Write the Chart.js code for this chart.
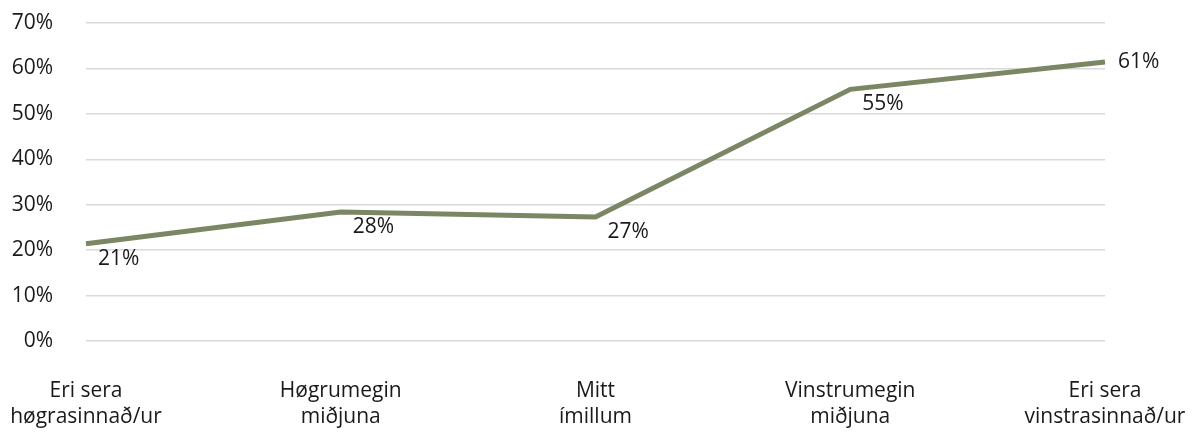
<!DOCTYPE html>
<html>
<head>
<meta charset="utf-8">
<script src="https://cdn.jsdelivr.net/npm/chart.js@4/dist/chart.umd.min.js"></script>
<style>
  html, body { margin: 0; padding: 0; background: #fff; }
  #wrap { width: 1200px; height: 432px; }
</style>
</head>
<body>
<div id="wrap"><canvas id="lineChart"></canvas></div>
<script>
// categories (two-line labels) and values in percent
const categories = [
  ["Eri sera", "høgrasinnað/ur"],
  ["Høgrumegin", "miðjuna"],
  ["Mitt", "ímillum"],
  ["Vinstrumegin", "miðjuna"],
  ["Eri sera", "vinstrasinnað/ur"]
];
const shareValues = [21.4, 28.4, 27.3, 55.4, 61.4];
const yTicks = [0, 10, 20, 30, 40, 50, 60, 70];

const FONT = "'Open Sans', sans-serif";
const TEXT = "#1a1a1a";

// value labels, below-right of each point, last one to the right
const pointLabels = {
  id: "pointLabels",
  afterDatasetsDraw(chart) {
    const ctx = chart.ctx;
    const meta = chart.getDatasetMeta(0);
    ctx.save();
    ctx.font = "21px " + FONT;
    ctx.fillStyle = TEXT;
    ctx.textAlign = "left";
    ctx.textBaseline = "middle";
    meta.data.forEach((pt, i) => {
      const txt = Math.round(shareValues[i]) + "%";
      if (i === meta.data.length - 1) {
        ctx.fillText(txt, pt.x + 13, pt.y);
      } else {
        ctx.fillText(txt, pt.x + 12, pt.y + 15);
      }
    });
    ctx.restore();
  }
};

const ctx = document.getElementById("lineChart").getContext("2d");
new Chart(ctx, {
  type: "line",
  data: {
    labels: categories,
    datasets: [
      {
        data: shareValues,
        borderColor: "#7a8664",
        borderWidth: 5,
        pointRadius: 0,
        tension: 0,
        fill: false
      }
    ]
  },
  options: {
    responsive: true,
    maintainAspectRatio: false,
    animation: false,
    layout: { padding: { top: 23, right: 95, bottom: 0, left: 0 } },
    plugins: {
      legend: { display: false },
      tooltip: { enabled: false }
    },
    scales: {
      x: {
        offset: false,
        grid: { display: false, drawTicks: false },
        border: { display: false },
        ticks: {
          color: TEXT,
          font: { family: FONT, size: 21, lineHeight: "26px" },
          padding: 37,
          maxRotation: 0,
          autoSkip: false
        },
        afterFit(scale) {
          scale.height = 91;
          scale.paddingLeft = 0;
          scale.paddingRight = 0;
        }
      },
      y: {
        min: 0,
        max: 70,
        afterBuildTicks(scale) { scale.ticks = yTicks.map(v => ({ value: v })); },
        grid: { color: "#d9d9d9", lineWidth: 1.5, drawTicks: false },
        border: { display: false },
        ticks: {
          color: TEXT,
          font: { family: FONT, size: 21 },
          padding: 33,
          callback: v => v + "%"
        },
        afterFit(scale) {
          scale.width = 86;
          scale.paddingTop = 0;
          scale.paddingBottom = 0;
        }
      }
    }
  },
  plugins: [pointLabels]
});
</script>
</body>
</html>
